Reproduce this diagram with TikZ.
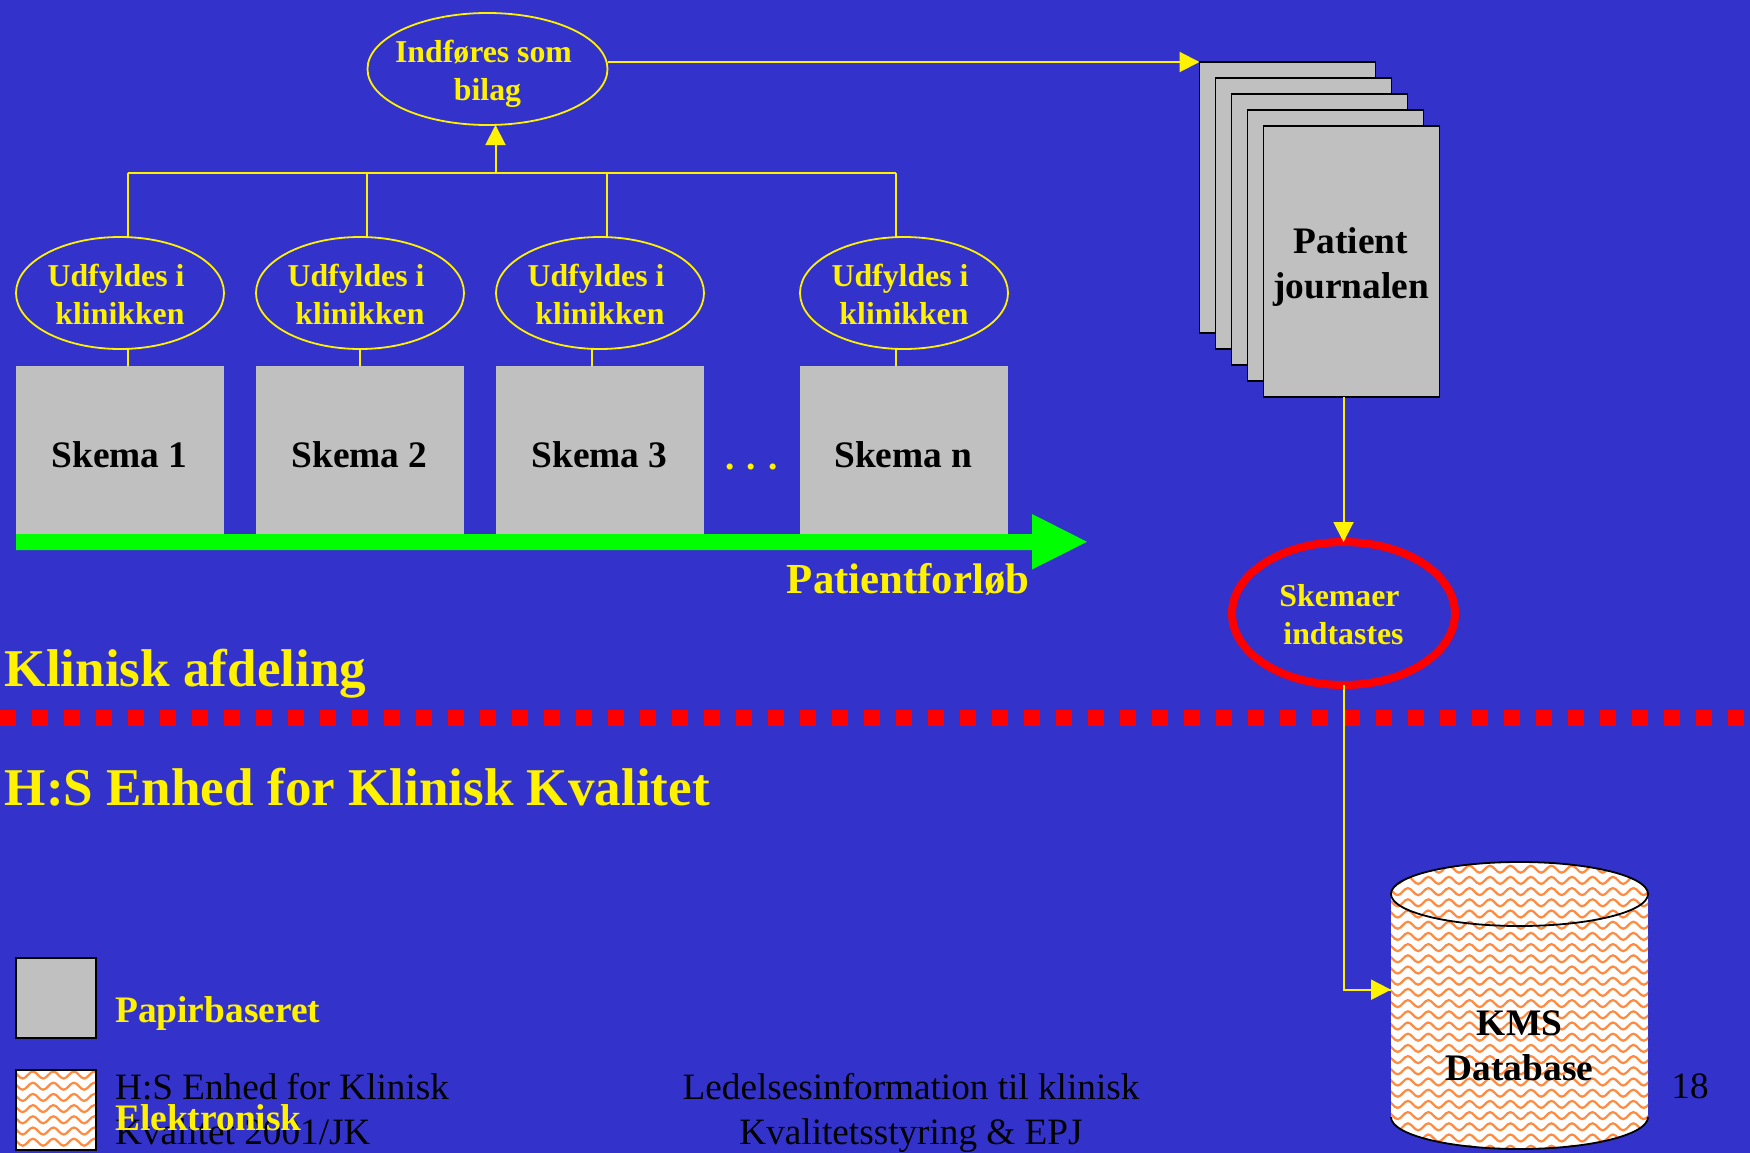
\documentclass[tikz,border=0pt]{standalone}
\usepackage{fontspec}
\setmainfont{Liberation Serif}
\usetikzlibrary{arrows.meta,shapes.geometric,decorations.pathmorphing}
\definecolor{slideblue}{HTML}{3333CC}
\definecolor{papergray}{HTML}{C0C0C0}
\definecolor{waveorange}{HTML}{FF8A40}
\tikzset{
  oval/.style={ellipse, draw=yellow, line width=1.8pt, fill=slideblue, inner sep=0pt, outer sep=0pt,
    minimum width=208pt, minimum height=112pt, text=yellow, align=center, text height=63.5pt,
    font=\bfseries\fontsize{31.8}{38}\selectfont},
  skemabox/.style={fill=papergray, minimum width=208pt, minimum height=168pt, inner sep=0pt, outer sep=0pt},
  pagebox/.style={draw=black, line width=1.8pt, fill=papergray, minimum width=176pt, minimum height=271pt, inner sep=0pt, outer sep=0pt},
  legendbox/.style={draw=black, line width=2pt, minimum width=80pt, minimum height=80pt, inner sep=0pt, outer sep=0pt},
  bigtext/.style={font=\bfseries\fontsize{37.4}{45}\selectfont, align=center, inner sep=0pt},
  headtext/.style={font=\bfseries\fontsize{53.1}{60}\selectfont, text=yellow, anchor=base west, inner sep=0pt},
  foottext/.style={font=\fontsize{37.2}{45}\selectfont, inner sep=0pt},
  conn/.style={draw=yellow, line width=2pt},
  connarrow/.style={conn, -{Triangle[length=20pt,width=20pt]}, yellow},
  wave/.style={draw=waveorange, line width=2.2pt, decorate, decoration={snake, segment length=20.5pt, amplitude=3.5pt}}
}
\begin{document}
\begin{tikzpicture}[x=1pt,y=-1pt]
\useasboundingbox (0,0) rectangle (1750,1153);
\fill[slideblue] (0,0) rectangle (1750,1153);

% Skema boxes along the patient course
\node[skemabox] (skema1) at (120,450) {};
\node[skemabox] (skema2) at (360,450) {};
\node[skemabox] (skema3) at (600,450) {};
\node[skemabox] (skeman) at (904,450) {};
\node[bigtext, anchor=base] (skematext1) at (119.5,467.7) {Skema 1};
\node[bigtext, anchor=base] (skematext2) at (359.5,467.7) {Skema 2};
\node[bigtext, anchor=base] (skematext3) at (599.5,467.7) {Skema 3};
\node[bigtext, anchor=base] (skematextn) at (903.5,467.7) {Skema n};
\node[bigtext, text=yellow, anchor=base] (dots) at (751.5,469) {.\hspace{12pt}.\hspace{12pt}.};

% The lines from the ovals up to the bus
\coordinate (bus1) at (127.5,173);
\coordinate (bus2) at (367,173);
\coordinate (bus3) at (607,173);
\coordinate (busn) at (895.7,173);
\coordinate (busup) at (495.5,173);
\coordinate (stub2) at (359.5,340);
\coordinate (stub3) at (592,340);
\node[oval, minimum width=240pt, inner xsep=-8pt, text height=70pt] (ovalbilag) at (487.5,69) {\mbox{Indføres som\ }\\bilag};
\draw[conn] (bus1) -- (busn);
\draw[conn] (bus1) -- (bus1 |- skema1.north);
\draw[conn] (bus2) -- (bus2 |- stub2);
\draw[conn] (stub2) -- (stub2 |- skema2.north);
\draw[conn] (bus3) -- (bus3 |- stub3);
\draw[conn] (stub3) -- (stub3 |- skema3.north);
\draw[conn] (busn) -- (busn |- skeman.north);
\draw[connarrow] (busup) -- (ovalbilag.south -| busup);
\node[oval] (oval1) at (120,293) {\mbox{Udfyldes i\ }\\klinikken};
\node[oval] (oval2) at (360,293) {\mbox{Udfyldes i\ }\\klinikken};
\node[oval] (oval3) at (600,293) {\mbox{Udfyldes i\ }\\klinikken};
\node[oval] (ovaln) at (904,293) {\mbox{Udfyldes i\ }\\klinikken};

% Green course arrow
\fill[green] (16,534) -- (1032,534) -- (1032,514) -- (1087,541.8) -- (1032,569.5) -- (1032,550) -- (16,550) -- cycle;
\node[bigtext, font=\bfseries\fontsize{42.8}{50}\selectfont, text=yellow, anchor=base west] (course) at (786.7,593) {Patientforløb};

% The stack of journal pages
\node[pagebox] (page1) at (1287.5,197.5) {};
\node[pagebox] (page2) at (1303.5,213.5) {};
\node[pagebox] (page3) at (1319.5,229.5) {};
\node[pagebox] (page4) at (1335.5,245.5) {};
\node[pagebox] (page5) at (1351.5,261.5) {};
\node[bigtext] (pagetext) at (1351,267.5) {Patient\\journalen};
\draw[connarrow] (ovalbilag.east |- page1.north west) -- (page1.north west);

% Headings and the red divider
\node[headtext] (klinisk) at (4.5,686) {Klinisk afdeling};
\node[headtext] (enhed) at (4.5,805) {H:S Enhed for Klinisk Kvalitet};
\coordinate (divleft) at (0,717.5);
\coordinate (divright) at (1744,717.5);
\draw[red, line width=16pt, dash pattern=on 16pt off 16pt] (divleft) -- (divright);

% Typing in the forms
\node[oval, draw=red, line width=8pt, minimum width=223pt, minimum height=143pt, text height=62.5pt] (ovaltast) at (1343.5,613.5) {\mbox{Skemaer\ }\\indtastes};
\draw[connarrow] (page5.south -| ovaltast) -- (ovaltast.north);

% The database cylinder
\begin{scope}
\clip (1391,894) -- (1391,1117) arc[start angle=180, end angle=0, x radius=128.5, y radius=32] -- (1648,894) arc[start angle=0, end angle=-180, x radius=128.5, y radius=32] -- cycle;
\fill[white] (1391,855) rectangle (1648,1153);
\foreach \rowy in {858,869.2,...,1158} {
  \draw[wave] (1381,\rowy) -- (1661,\rowy);
}
\end{scope}
\draw[black, line width=1.8pt] (1519.5,894) ellipse [x radius=128.5, y radius=32];
\draw[black, line width=1.8pt] (1391,1117) arc[start angle=180, end angle=0, x radius=128.5, y radius=32];
\node[bigtext] (dbtext) at (1519.5,1046) {KMS\\Database};
\coordinate (dbleft) at (1391,989.7);
\draw[conn] (ovaltast.south) |- (dbleft);
\draw[connarrow] (ovaltast.south |- dbleft) -- (dbleft);

% The legend and the footer
\node[legendbox, fill=papergray] (legendpaper) at (56,997.5) {};
\node[legendbox, fill=white] (legendwave) at (56,1109.5) {};
\begin{scope}
\clip (legendwave.south west) rectangle (legendwave.north east);
\foreach \rowy in {1075,1086.2,...,1155} {
  \draw[wave] (6,\rowy) -- (106,\rowy);
}
\end{scope}
\draw[black, line width=2pt] (legendwave.south west) rectangle (legendwave.north east);
\node[foottext, align=left, anchor=base west] (footleft) at (115,1144.5) {H:S Enhed for Klinisk\\Kvalitet 2001/JK};
\node[foottext, align=center, anchor=base] (footmid) at (911,1144.5) {Ledelsesinformation til klinisk\\Kvalitetsstyring \& EPJ};
\node[foottext, anchor=base] (footnum) at (1690,1098) {18};
\node[bigtext, text=yellow, anchor=base west] (legendtext1) at (115,1022) {Papirbaseret};
\node[bigtext, text=yellow, anchor=base west] (legendtext2) at (115,1130) {Elektronisk};
\end{tikzpicture}
\end{document}
